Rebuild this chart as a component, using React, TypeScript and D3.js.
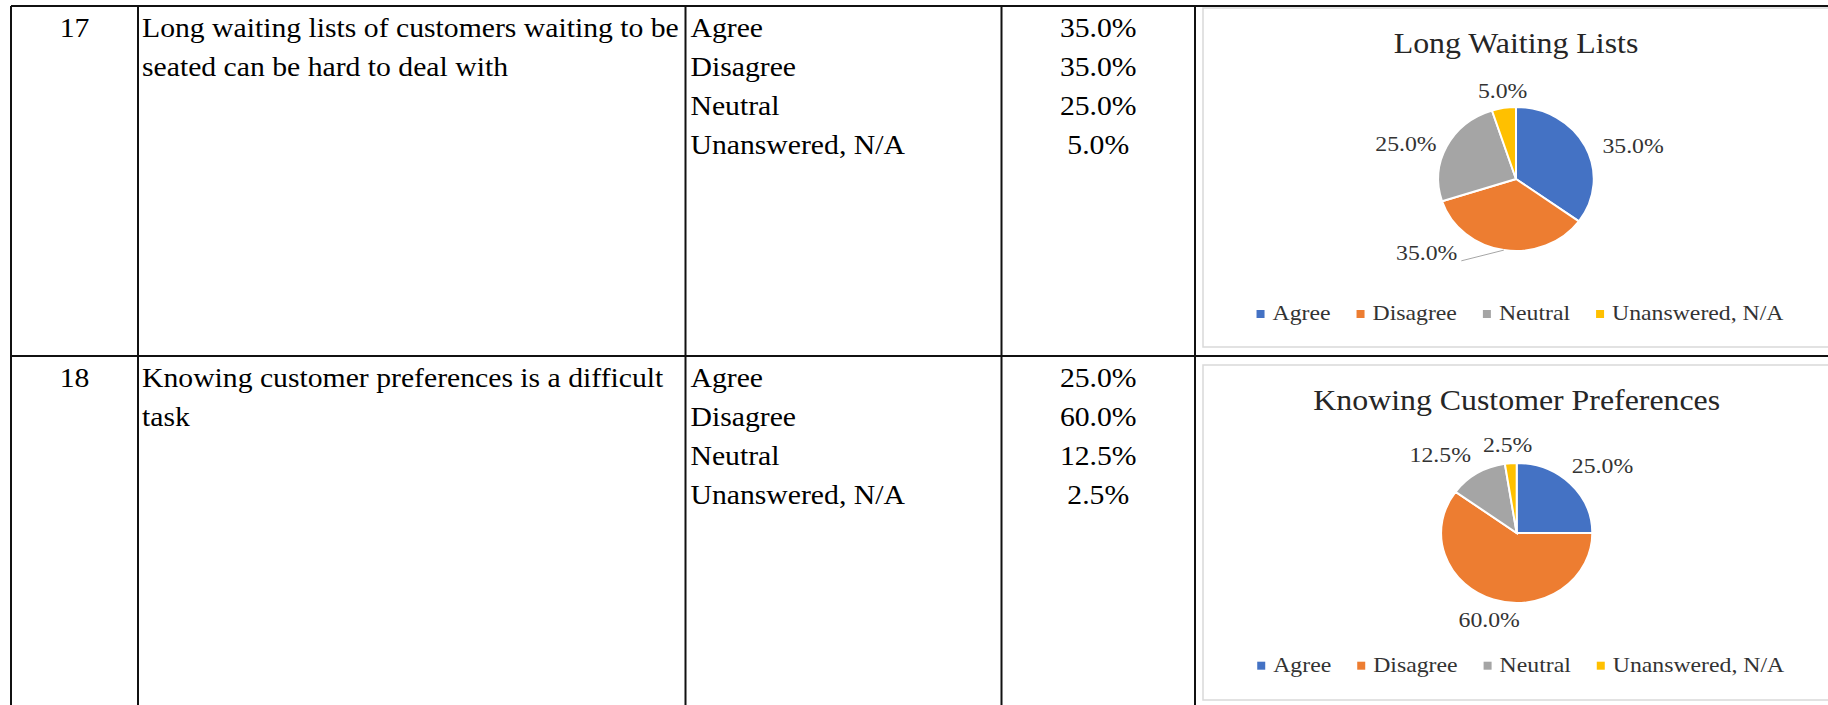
import React, { useEffect, useRef } from 'react';
import * as d3 from 'd3';

// survey answers shown in the table and in the two pies
const categories = ['Agree', 'Disagree', 'Neutral', 'Unanswered, N/A'];
const itemNumbers = ['17', '18'];
const statementLines = [
  ['Long waiting lists of customers waiting to be', 'seated can be hard to deal with'],
  ['Knowing customer preferences is a difficult', 'task'],
];
const chartTitles = ['Long Waiting Lists', 'Knowing Customer Preferences'];
const waitingListValues = [35.0, 35.0, 25.0, 5.0];
const preferenceValues = [25.0, 60.0, 12.5, 2.5];
const sliceColors = ['#4472C4', '#ED7D31', '#A5A5A5', '#FFC000'];

const W = 1828;
const H = 705;
const SX = 1.08; // the source page is a little stretched sideways
const SERIF = '"Liberation Serif", "Times New Roman", serif';
const colX = [11, 138, 685.5, 1001.5, 1195];
const rowY = [6, 356];

// where each chart sits inside its cell
const chartLayout = [
  { top: 8, bottom: 347, titleY: 53, cx: 1516, cy: 179, r: 72, legendY: 320,
    nudge: [[7, 9], [-70, -19], [0, 7], [5, 4]], leader: [false, true, false, false] },
  { top: 365, bottom: 700, titleY: 410, cx: 1516.7, cy: 533, r: 70, legendY: 671.7,
    nudge: [[0, -2], [10, -1], [-13, 0], [0, 3]], leader: [false, false, false, false] },
];

const pct = (v: number) => `${v.toFixed(1)}%`;

export default function App() {
  const svgRef = useRef<SVGSVGElement>(null);

  useEffect(() => {
    const svg = d3.select(svgRef.current);
    svg.selectAll('*').remove();
    svg.append('rect').attr('width', W).attr('height', H).attr('fill', '#fff');

    const text = (x: number, y: number, s: string, size: number, fill = '#000', anchor = 'start') =>
      svg.append('text')
        .attr('transform', `translate(${x},${y}) scale(${SX},1)`)
        .attr('text-anchor', anchor)
        .attr('font-family', SERIF)
        .attr('font-size', size)
        .attr('fill', fill)
        .text(s);

    const rowValues = [waitingListValues, preferenceValues];

    // table cells
    rowValues.forEach((vals, i) => {
      const base = rowY[i] + 30.5;
      text((colX[0] + colX[1]) / 2, base, itemNumbers[i], 27.5, '#000', 'middle');
      statementLines[i].forEach((s, k) => text(colX[1] + 4, base + k * 39, s, 27.5));
      categories.forEach((c, k) => text(colX[2] + 5, base + k * 39, c, 27.5));
      vals.forEach((v, k) => text((colX[3] + colX[4]) / 2, base + k * 39, pct(v), 27.5, '#000', 'middle'));
    });

    // pie charts
    const pie = d3.pie<number>().sort(null).value((d) => d);
    rowValues.forEach((vals, i) => {
      const L = chartLayout[i];
      svg.append('rect')
        .attr('x', 1203).attr('y', L.top)
        .attr('width', 626).attr('height', L.bottom - L.top)
        .attr('fill', '#fff').attr('stroke', '#d9d9d9').attr('stroke-width', 1.5);

      text(L.cx, L.titleY, chartTitles[i], 29.5, '#262626', 'middle');

      const arc = d3.arc<d3.PieArcDatum<number>>().innerRadius(0).outerRadius(L.r);
      const arcs = pie(vals);
      svg.append('g')
        .attr('transform', `translate(${L.cx},${L.cy}) scale(${SX},1)`)
        .selectAll('path')
        .data(arcs)
        .enter()
        .append('path')
        .attr('d', arc)
        .attr('fill', (d, k) => sliceColors[k])
        .attr('stroke', '#fff')
        .attr('stroke-width', 2)
        .attr('vector-effect', 'non-scaling-stroke');

      // data labels, outside end
      arcs.forEach((a, k) => {
        const mid = (a.startAngle + a.endAngle) / 2;
        const s = Math.sin(mid);
        const c = Math.cos(mid);
        const t = text(0, 0, pct(vals[k]), 22, '#333', 'middle');
        const w = (t.node() as SVGTextElement).getComputedTextLength() * SX;
        const px = L.cx + s * (L.r + 14) * SX;
        const py = L.cy - c * (L.r + 14);
        const lx = px + s * w / 2 + L.nudge[k][0];
        const ly = py - c * 8 + L.nudge[k][1];
        t.attr('transform', `translate(${lx},${ly + 7.4}) scale(${SX},1)`);
        if (L.leader[k]) {
          svg.append('path')
            .attr('d', d3.line()([
              [lx + w / 2 + 4, ly + 8],
              [L.cx + s * L.r * SX, L.cy - c * L.r],
            ]))
            .attr('fill', 'none')
            .attr('stroke', '#a6a6a6')
            .attr('stroke-width', 1);
        }
      });

      // legend, centred under the pie
      const items = categories.map((c) => {
        const t = text(0, 0, c, 22, '#333');
        return { t, w: (t.node() as SVGTextElement).getComputedTextLength() * SX };
      });
      const total = d3.sum(items, (d) => 8 + 8 + d.w) + 26 * (items.length - 1);
      let x = L.cx + 4 - total / 2;
      items.forEach((it, k) => {
        svg.append('rect')
          .attr('x', x).attr('y', L.legendY - 10)
          .attr('width', 8).attr('height', 8)
          .attr('fill', sliceColors[k]);
        it.t.attr('transform', `translate(${x + 16},${L.legendY}) scale(${SX},1)`);
        x += 16 + it.w + 26;
      });
    });

    // table grid
    const grid = svg.append('g').attr('stroke', '#111').attr('stroke-width', 2);
    colX.forEach((x) => {
      grid.append('line').attr('x1', x).attr('x2', x).attr('y1', rowY[0]).attr('y2', H);
    });
    rowY.forEach((y) => {
      grid.append('line').attr('x1', colX[0]).attr('x2', W).attr('y1', y).attr('y2', y);
    });
  }, []);

  return (
    <svg ref={svgRef} width={W} height={H} style={{ position: 'absolute', left: 0, top: 0 }}></svg>
  );
}
